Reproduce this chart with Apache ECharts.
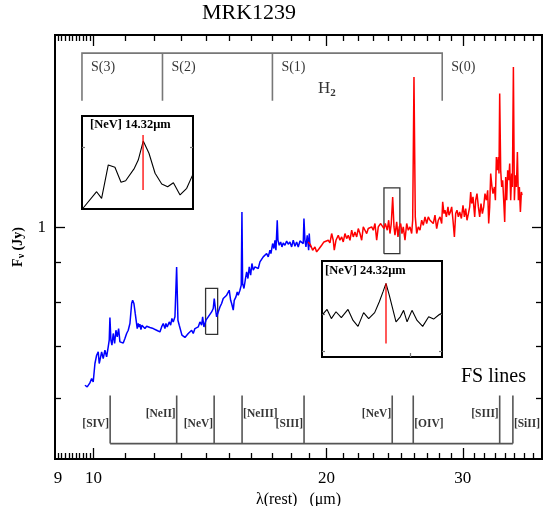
<!DOCTYPE html>
<html><head><meta charset="utf-8">
<script src="https://cdn.jsdelivr.net/npm/echarts@6/dist/echarts.min.js"></script>
<style>html,body{margin:0;padding:0;background:#fff}#c{width:543px;height:506px}</style>
</head><body><div id="c"></div>
<script>
// ---------- DATA ----------
const blueWave = [9.750,9.817,9.896,9.947,9.994,10.045,10.096,10.144,10.174,10.217,
10.247,10.296,10.348,10.400,10.450,10.481,10.503,10.534,10.566,10.607,
10.651,10.692,10.734,10.778,10.820,10.875,10.927,10.982,11.038,11.091,
11.147,11.204,11.237,11.280,11.324,11.371,11.392,11.426,11.460,11.483,
11.518,11.552,11.597,11.655,11.715,11.770,11.830,11.890,11.947,12.007,
12.068,12.126,12.187,12.249,12.308,12.370,12.407,12.455,12.529,12.582,
12.630,12.679,12.744,12.808,12.858,12.908,12.961,13.012,13.062,13.128,
13.195,13.258,13.325,13.393,13.456,13.525,13.593,13.658,13.727,13.797,
13.838,13.892,13.975,14.070,14.142,14.213,14.281,14.324,14.366,14.426,
14.452,14.495,14.569,14.642,14.712,14.787,14.862,14.933,14.977,15.040,
15.085,15.157,15.202,15.279,15.338,15.384,15.462,15.522,15.554,15.586,
15.647,15.707,15.773,15.834,15.895,15.962,16.023,16.086,16.167,16.249,
16.327,16.409,16.493,16.571,16.655,16.740,16.820,16.905,16.955,17.041,
17.107,17.158,17.209,17.276,17.312,17.379,17.452,17.519,17.587,17.676,
17.766,17.851,17.941,18.032,18.118,18.210,18.302,18.390,18.483,18.577,
18.665,18.704,18.760,18.816,18.889,18.967,19.001,19.041,19.098];
const blueFlux = [0.6234,0.6203,0.6278,0.6360,0.6296,0.6653,0.6820,0.6888,0.6653,0.6785,
0.6888,0.6753,0.6923,0.6785,0.6991,0.7133,0.7635,0.7133,0.7028,0.7278,
0.7064,0.7349,0.7204,0.7386,0.7097,0.7133,0.7075,0.7169,0.7278,0.7349,
0.7498,0.7961,0.8037,0.7961,0.7727,0.7700,0.7386,0.7498,0.7422,0.7482,
0.7364,0.7460,0.7422,0.7386,0.7437,0.7422,0.7408,0.7437,0.7386,0.7422,
0.7349,0.7386,0.7311,0.7422,0.7498,0.7386,0.7498,0.7422,0.7534,0.7460,
0.7612,0.7534,0.7649,0.8881,0.7573,0.7460,0.7422,0.7241,0.7278,0.7192,
0.7204,0.7278,0.7241,0.7349,0.7278,0.7386,0.7349,0.7422,0.7534,0.7460,
0.7649,0.7422,0.7573,0.7649,0.7612,0.7762,0.7843,0.8080,0.7880,0.7649,
0.7688,0.7762,0.7880,0.7961,0.8080,0.8037,0.8161,0.8120,0.8283,0.8037,
0.7961,0.7803,0.8037,0.8120,0.8241,0.8161,0.8283,0.8409,1.0469,0.8450,
0.8326,0.8534,0.8749,0.8578,0.8881,0.8664,0.8973,0.8796,0.8881,0.8926,
0.8839,0.9015,0.8973,0.9151,0.9107,0.9243,0.9151,0.9335,0.9243,0.9524,
0.9383,0.9618,0.9335,1.0212,0.9618,0.9476,0.9570,0.9428,0.9541,0.9476,
0.9598,0.9504,0.9570,0.9428,0.9618,0.9447,0.9570,0.9428,0.9598,0.9639,
0.9524,1.0264,0.9618,0.9428,0.9763,0.9335,0.9813,0.9476,0.9420];

const redWave = [18.945,19.081,19.194,19.326,19.424,19.575,19.715,19.851,19.969,20.107,
20.209,20.311,20.408,20.469,20.573,20.714,20.819,20.925,21.024,21.131,
21.238,21.340,21.448,21.557,21.660,21.769,21.880,21.984,22.096,22.208,
22.314,22.427,22.541,22.648,22.763,22.878,22.988,23.104,23.221,23.332,
23.499,23.639,23.731,23.823,23.965,24.065,24.158,24.252,24.353,24.448,
24.520,24.645,24.740,24.836,24.940,25.036,25.133,25.261,25.389,25.510,
25.639,25.769,25.846,25.946,26.047,26.156,26.280,26.414,26.548,26.674,
26.809,26.945,27.074,27.211,27.349,27.479,27.619,27.759,27.891,28.033,
28.175,28.259,28.368,28.453,28.571,28.708,28.793,28.913,29.025,29.138,
29.259,29.373,29.487,29.610,29.724,29.875,30.018,30.143,30.260,30.377,
30.504,30.622,30.713,30.804,30.924,31.081,31.173,31.294,31.424,31.546,
31.669,31.801,31.924,32.048,32.182,32.306,32.403,32.499,32.596,32.722,
32.820,32.957,33.055,33.153,33.252,33.351,33.411,33.480,33.580,33.680,
33.780,33.881,33.982,34.083,34.185,34.286,34.389,34.491,34.594,34.697,
34.769,34.873,34.976,35.081,35.185,35.290,35.395,35.500,35.606,35.712,
35.776];
const redFlux = [0.9570,0.9476,0.9335,0.9428,0.9289,0.9383,0.9476,0.9570,0.9524,0.9618,
0.9541,0.9813,0.9618,0.9335,0.9618,0.9763,0.9618,0.9714,0.9570,0.9813,
0.9667,0.9763,0.9618,0.9911,0.9714,0.9860,0.9714,0.9961,0.9813,0.9618,
1.0009,0.9911,0.9813,0.9961,0.9911,1.0009,0.9911,1.0111,0.9618,1.0009,
1.0111,1.0160,0.9961,1.0111,0.9911,1.0212,0.9813,1.0111,1.0949,1.0009,
0.9763,1.0160,0.9714,1.0009,1.0111,0.9813,1.0009,0.9618,1.0111,0.9911,
1.0009,0.9813,1.0212,1.5673,1.0313,0.9813,1.0009,0.9911,1.0212,1.0060,
1.0313,1.0111,1.0313,1.0212,1.0212,1.0111,1.0366,0.9961,1.0212,1.0313,
1.0111,1.0787,1.0418,1.0522,1.0313,1.0626,1.0366,1.0469,1.0626,1.0212,
0.9714,1.0418,1.0522,1.0313,1.0469,1.0264,1.0680,1.0313,1.0575,1.0212,
1.0418,1.0626,1.1111,1.0734,1.0949,1.0313,1.0841,1.1060,1.0626,1.0313,
1.0734,1.0418,1.0626,1.1060,1.0841,1.1170,1.0111,1.0626,1.1742,1.1279,
1.1060,1.1279,1.0841,1.2340,1.1858,1.2340,1.1742,1.4914,1.1858,1.1279,
1.1508,1.0841,1.0160,1.1623,1.0841,1.1858,1.1508,1.2098,1.0841,1.1742,
1.1279,1.6150,1.0841,1.1683,1.1279,1.2526,1.0841,1.1279,1.0469,1.1111,
1.1004];

// inset zooms around the two [NeV] lines
const inset1Wave = [13.992,14.069,14.096,14.132,14.168,14.201,14.226,14.273,14.294,14.321,14.352,14.385,14.421,14.453,14.484,14.520,14.556,14.590];
const inset1Flux = [0.7200,0.7423,0.7338,0.7768,0.7738,0.7545,0.7565,0.7725,0.7832,0.8077,0.7919,0.7661,0.7523,0.7488,0.7539,0.7381,0.7467,0.7650];
const inset1Line = {wave: 14.32, flux: [0.7445, 0.8155]};
const inset2Wave = [23.845,23.878,23.910,23.945,23.985,24.035,24.073,24.110,24.152,24.190,24.235,24.270,24.298,24.320,24.345,24.370,24.395,24.427,24.452,24.478,24.515,24.553,24.595,24.640,24.677,24.720,24.735];
const inset2Flux = [1.013,1.024,1.004,1.019,1.006,1.024,1.000,0.987,1.017,1.004,1.017,1.041,1.063,1.081,1.055,1.026,0.997,1.008,1.022,0.997,1.022,1.000,0.987,1.008,1.003,1.013,1.015];
const inset2Line = {wave: 24.32, flux: [0.9494, 1.081]};

// boxes in the main plot marking the inset regions
const box1 = {wave: [13.96, 14.47], flux: [0.726, 0.833]};
const box2 = {wave: [23.73, 24.88], flux: [0.924, 1.125]};

// line identifications
const h2Wave = [9.665, 12.28, 17.03, 28.22];
const h2Names = ['S(3)', 'S(2)', 'S(1)', 'S(0)'];
const fsWave = [10.51, 12.81, 14.32, 15.56, 18.71, 24.32, 25.89, 33.48, 34.82];
const fsNames = ['[SIV]', '[NeII]', '[NeV]', '[NeIII]', '[SIII]', '[NeV]', '[OIV]', '[SIII]', '[SiII]'];

// axis ticks / labels
const xLabelValues = [9, 10, 20, 30];
const xMajorTicks = [10, 20, 30];
const xMinorTicks = [9, 9.1, 9.2, 9.3, 9.4, 9.5, 9.6, 9.7, 9.8, 9.9,
  11, 12, 13, 14, 15, 16, 17, 18, 19, 21, 22, 23, 24, 25, 26, 27, 28, 29,
  31, 32, 33, 34, 35, 36, 37];
const yLabelValues = [1];
const yMajorTicks = [1];
const yMinorTicks = [0.6, 0.7, 0.8, 0.9];

// ---------- LAYOUT ----------
const X_MIN = 8.92, X_MAX = 37.97, Y_MIN = 0.5, Y_MAX = 1.777;
const H2_TOP = 1.683, H2_BOTTOM = 1.46, H2_TEXT = 1.611;
const FS_TOP = 0.6045, FS_BOTTOM = 0.5236, FS_UP = 0.5723, FS_LOW = 0.5543;
const fsLayout = [['left', FS_LOW], ['left', FS_UP], ['left', FS_LOW], ['right', FS_UP], ['left', FS_LOW],
  ['left', FS_UP], ['right', FS_LOW], ['left', FS_UP], ['right', FS_LOW]];
const SERIF = '"Liberation Serif", "DejaVu Serif", serif';

const zip = (a, b) => a.map((v, i) => [v, b[i]]);

function mx(pos, ticks, len, labels, extra) {
  return Object.assign({
    type: 'log', logBase: 10, gridIndex: 0, position: pos, min: X_MIN, max: X_MAX,
    axisLine: {show: false}, splitLine: {show: false}, minorTick: {show: false},
    axisTick: {show: true, inside: true, length: len, customValues: ticks, lineStyle: {color: '#000', width: 1.3}},
    axisLabel: labels ? {show: true, customValues: xLabelValues, margin: 11, fontSize: 17, fontFamily: SERIF, color: '#000',
      formatter: v => String(Math.round(v))} : {show: false}
  }, extra || {});
}
function my(pos, ticks, len, labels, extra) {
  return Object.assign({
    type: 'log', logBase: 10, gridIndex: 0, position: pos, min: Y_MIN, max: Y_MAX,
    axisLine: {show: false}, splitLine: {show: false}, minorTick: {show: false},
    axisTick: {show: true, inside: true, length: len, customValues: ticks, lineStyle: {color: '#000', width: 1.3}},
    axisLabel: labels ? {show: true, customValues: yLabelValues, margin: 9, fontSize: 17, fontFamily: SERIF, color: '#000',
      formatter: v => String(Math.round(v))} : {show: false}
  }, extra || {});
}
function insetAxis(grid, pos, min, max, ticks, len) {
  return {
    type: 'value', gridIndex: grid, position: pos, min: min, max: max,
    axisLine: {show: false}, splitLine: {show: false}, axisLabel: {show: false},
    axisTick: ticks ? {show: true, inside: true, length: len, customValues: ticks, lineStyle: {color: '#777', width: 1.2}} : {show: false}
  };
}

const h2Segments = [
  {coords: [[h2Wave[0], H2_BOTTOM], [h2Wave[0], H2_TOP], [h2Wave[3], H2_TOP], [h2Wave[3], H2_BOTTOM]]},
  {coords: [[h2Wave[1], H2_TOP], [h2Wave[1], H2_BOTTOM]]},
  {coords: [[h2Wave[2], H2_TOP], [h2Wave[2], H2_BOTTOM]]}
];
const fsSegments = [{coords: [[fsWave[0], FS_BOTTOM], [fsWave[fsWave.length - 1], FS_BOTTOM]]}]
  .concat(fsWave.map(w => ({coords: [[w, FS_BOTTOM], [w, FS_TOP]]})));
const rect = b => ({coords: [[b.wave[0], b.flux[0]], [b.wave[1], b.flux[0]], [b.wave[1], b.flux[1]], [b.wave[0], b.flux[1]], [b.wave[0], b.flux[0]]]});

const gridBase = {show: true, borderColor: '#000', borderWidth: 2, containLabel: false, outerBoundsMode: 'none'};
const chart = echarts.init(document.getElementById('c'), null, {renderer: 'canvas'});
const option = {
  animation: false,
  backgroundColor: '#fff',
  grid: [
    Object.assign({left: 55, top: 35, width: 487, height: 424, backgroundColor: 'transparent'}, gridBase),
    Object.assign({left: 82, top: 116, width: 111, height: 93, backgroundColor: '#fff'}, gridBase),
    Object.assign({left: 322, top: 261, width: 120, height: 96, backgroundColor: '#fff'}, gridBase)
  ],
  xAxis: [
    mx('bottom', xMajorTicks, 11, true, {
      name: 'λ(rest)   (μm)', nameLocation: 'middle', nameGap: 25,
      nameTextStyle: {fontFamily: SERIF, fontSize: 16, color: '#000'}
    }),
    mx('bottom', xMinorTicks, 6, false),
    mx('top', xMajorTicks, 11, false),
    mx('top', xMinorTicks, 6, false),
    insetAxis(1, 'bottom', 13.99, 14.59, null, 0),
    insetAxis(2, 'bottom', 23.84, 24.74, [24.5], 4)
  ],
  yAxis: [
    my('left', yMajorTicks, 10, true, {
      name: '{a|F}{b|ν}{a| (Jy)}', nameLocation: 'middle', nameRotate: 90, nameGap: 25,
      nameTextStyle: {color: '#000', rich: {
        a: {fontFamily: SERIF, fontSize: 14, fontWeight: 'bold', color: '#000'},
        b: {fontFamily: SERIF, fontSize: 10, fontWeight: 'bold', color: '#000', padding: [6, 0, 0, 0]}
      }}
    }),
    my('left', yMinorTicks, 6, false),
    my('right', yMajorTicks, 10, false),
    my('right', yMinorTicks, 6, false),
    insetAxis(1, 'left', 0.72, 0.84, [0.8], 3),
    insetAxis(1, 'right', 0.72, 0.84, [0.8], 3),
    insetAxis(2, 'left', 0.92, 1.13, [0.932, 1.013], 3),
    insetAxis(2, 'right', 0.92, 1.13, [0.932, 1.013], 3)
  ],
  series: [
    {type: 'line', name: 'SL', xAxisIndex: 0, yAxisIndex: 0, data: zip(blueWave, blueFlux),
      symbol: 'none', silent: true, lineStyle: {color: '#0000ff', width: 1.5}},
    {type: 'line', name: 'LL', xAxisIndex: 0, yAxisIndex: 0, data: zip(redWave, redFlux),
      symbol: 'none', silent: true, lineStyle: {color: '#ff0000', width: 1.5}},
    {type: 'lines', coordinateSystem: 'cartesian2d', xAxisIndex: 0, yAxisIndex: 0, polyline: true, silent: true,
      data: [rect(box1), rect(box2)], lineStyle: {color: '#333', width: 1.3, opacity: 1}, z: 3},
    {type: 'lines', coordinateSystem: 'cartesian2d', xAxisIndex: 0, yAxisIndex: 0, polyline: true, silent: true,
      data: h2Segments, lineStyle: {color: '#777', width: 1.6, opacity: 1}},
    {type: 'lines', coordinateSystem: 'cartesian2d', xAxisIndex: 0, yAxisIndex: 0, polyline: true, silent: true,
      data: fsSegments, lineStyle: {color: '#555', width: 1.6, opacity: 1}},
    {type: 'scatter', xAxisIndex: 0, yAxisIndex: 0, symbolSize: 0, silent: true,
      data: h2Wave.map((w, i) => ({value: [w, H2_TEXT], name: h2Names[i]})),
      label: {show: true, position: 'right', distance: 9, formatter: p => p.name,
        fontFamily: SERIF, fontSize: 14, color: '#000'}},
    {type: 'scatter', xAxisIndex: 0, yAxisIndex: 0, symbolSize: 0, silent: true,
      data: [{value: [19.5, 1.515], name: 'H2'}],
      label: {show: true, position: 'right', distance: 0, formatter: '{h|H}{s|2}',
        rich: {h: {fontFamily: SERIF, fontSize: 17, color: '#000'},
               s: {fontFamily: SERIF, fontSize: 11, fontWeight: 'bold', color: '#000', padding: [9, 0, 0, 0]}}}},
    {type: 'scatter', xAxisIndex: 0, yAxisIndex: 0, symbolSize: 0, silent: true,
      data: fsWave.map((w, i) => ({value: [w, fsLayout[i][1]], name: fsNames[i],
        label: {position: fsLayout[i][0]}})),
      label: {show: true, distance: 1, formatter: p => p.name,
        fontFamily: SERIF, fontSize: 11.5, fontWeight: 'bold', color: '#000'}},
    {type: 'line', xAxisIndex: 4, yAxisIndex: 4, data: zip(inset1Wave, inset1Flux), symbol: 'none', silent: true,
      lineStyle: {color: '#000', width: 1.1}},
    {type: 'line', xAxisIndex: 4, yAxisIndex: 4, data: [[inset1Line.wave, inset1Line.flux[0]], [inset1Line.wave, inset1Line.flux[1]]],
      symbol: 'none', silent: true, lineStyle: {color: '#ff0000', width: 1.3}},
    {type: 'line', xAxisIndex: 5, yAxisIndex: 6, data: zip(inset2Wave, inset2Flux), symbol: 'none', silent: true,
      lineStyle: {color: '#000', width: 1.1}},
    {type: 'line', xAxisIndex: 5, yAxisIndex: 6, data: [[inset2Line.wave, inset2Line.flux[0]], [inset2Line.wave, inset2Line.flux[1]]],
      symbol: 'none', silent: true, lineStyle: {color: '#ff0000', width: 1.3}}
  ],
  graphic: [
    {type: 'text', left: 202, top: 2, style: {text: 'MRK1239', font: '22px ' + SERIF, fill: '#000'}},
    {type: 'text', left: 461, top: 367, style: {text: 'FS lines', font: '20px ' + SERIF, fill: '#000'}},
    {type: 'text', left: 90, top: 118, z: 10, style: {text: '[NeV] 14.32μm', font: 'bold 12.5px ' + SERIF, fill: '#000'}},
    {type: 'text', left: 325, top: 264, z: 10, style: {text: '[NeV] 24.32μm', font: 'bold 12.5px ' + SERIF, fill: '#000'}}
  ]
};
chart.setOption(option);
</script></body></html>
